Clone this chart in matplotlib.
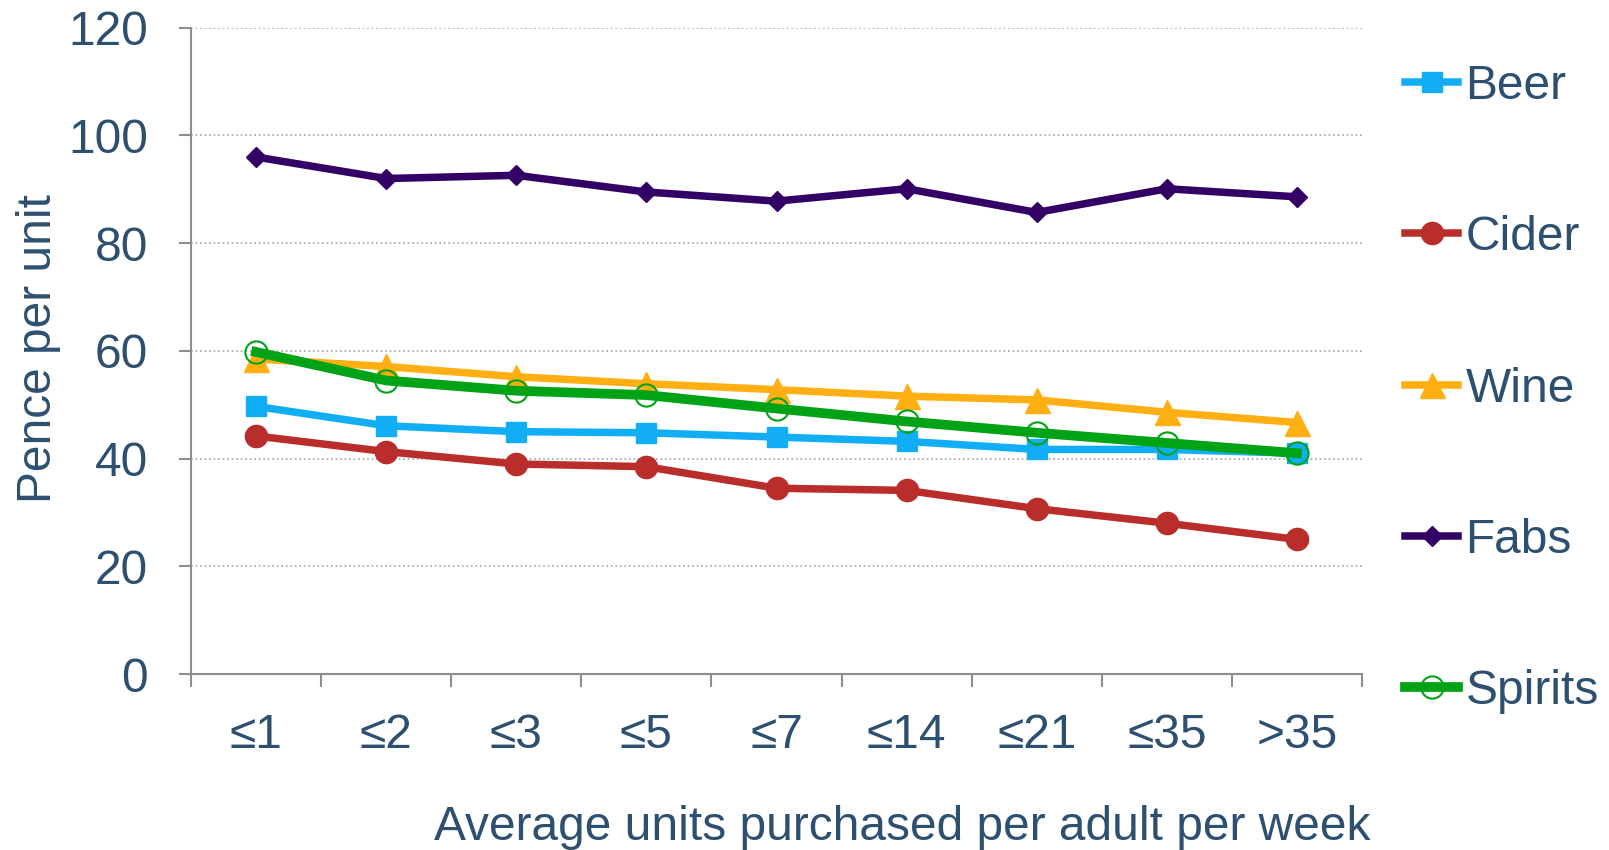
import matplotlib.pyplot as plt
from matplotlib.lines import Line2D

plt.rcParams["font.family"] = ["Liberation Sans", "DejaVu Sans"]

categories = ["≤1", "≤2", "≤3", "≤5", "≤7", "≤14", "≤21", "≤35", ">35"]
beer = [49.7, 46.1, 45.0, 44.8, 44.0, 43.2, 41.7, 41.7, 41.0]
cider = [44.2, 41.3, 39.0, 38.5, 34.5, 34.1, 30.7, 28.0, 25.0]
wine = [58.5, 57.1, 55.2, 53.9, 52.8, 51.6, 50.9, 48.6, 46.7]
fabs = [96.0, 92.0, 92.6, 89.5, 87.8, 90.1, 85.7, 90.1, 88.6]
spirits = [59.8, 54.5, 52.6, 51.8, 49.3, 46.9, 44.8, 42.9, 41.0]
y_ticks = [0, 20, 40, 60, 80, 100, 120]

text_col = "#2E5070"
axis_col = "#8C8F8A"
fs = 34.5

styles = {
    "Beer": dict(color="#12AEF5", lw=5.4, marker="s", ms=15),
    "Cider": dict(color="#B92D2A", lw=5.4, marker="o", ms=16),
    "Wine": dict(color="#FFAF12", lw=5.4, marker="^", ms=18),
    "Fabs": dict(color="#330066", lw=5.4, marker="D", ms=10),
    "Spirits": dict(color="#00A316", lw=7.0, marker="o", ms=16, mfc="none",
                    mec="#00A316", mew=1.5),
}
series = {"Beer": beer, "Cider": cider, "Wine": wine, "Fabs": fabs, "Spirits": spirits}

fig = plt.figure(figsize=(16.09, 8.5), dpi=100)
fig.patch.set_facecolor("white")
ax = fig.add_axes([0.1187, 0.207, 0.7278, 0.7604])

x = [i + 0.5 for i in range(len(categories))]
for name, vals in series.items():
    ax.plot(x, vals, label=name, zorder=4 if name == "Spirits" else 3, **styles[name])

ax.set_xlim(0, len(categories))
ax.set_ylim(0, 120)
ax.set_yticks(y_ticks)
ax.set_xticks(range(len(categories) + 1))
ax.set_xticklabels([])
ax.set_xticks(x, minor=True)
ax.set_xticklabels(categories, minor=True)

for y in y_ticks[1:]:
    ax.axhline(y, color="#B0B0B0", lw=1.3, ls=(0, (1, 1.5)), zorder=1)

for s in ["top", "right"]:
    ax.spines[s].set_visible(False)
for s in ["left", "bottom"]:
    ax.spines[s].set_color(axis_col)
    ax.spines[s].set_linewidth(1.5)

ax.tick_params(axis="y", which="major", direction="out", length=9, width=1.5,
               color=axis_col, labelsize=fs, labelcolor=text_col, pad=22)
ax.tick_params(axis="x", which="major", direction="out", length=9, width=1.5,
               color=axis_col)
ax.tick_params(axis="x", which="minor", length=0, labelsize=fs,
               labelcolor=text_col, pad=28)

fig.text(0.0240, 0.59, "Pence per unit", rotation=90, ha="center", va="center",
         fontsize=fs, color=text_col)
fig.text(0.5605, 0.027, "Average units purchased per adult per week",
         ha="center", va="center", fontsize=fs, color=text_col)

handles = [Line2D([], [], **styles[n]) for n in series]
leg = fig.legend(handles, list(series), loc="upper left",
                 bbox_to_anchor=(0.8735, 0.925), frameon=False,
                 fontsize=fs, handlelength=1.1, handletextpad=0.15,
                 labelspacing=2.22, borderaxespad=0, borderpad=0)
for t in leg.get_texts():
    t.set_color(text_col)

fig.savefig("out.png", dpi=100)
